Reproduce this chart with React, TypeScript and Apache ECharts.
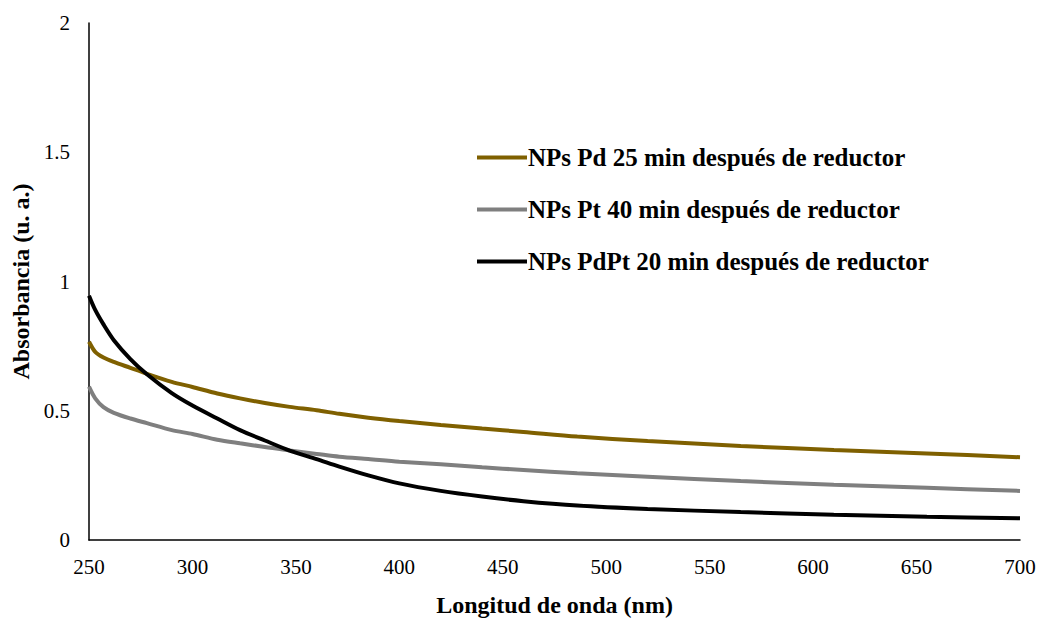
import React, { useEffect, useRef } from "react";
import * as echarts from "echarts";

const wavelengths = [250, 253, 257, 262, 270, 278, 290, 300, 312, 323, 335, 347, 360, 371, 385, 400, 420, 440, 460, 486, 520, 565, 610, 655, 700];
const pdValues = [0.767, 0.728, 0.706, 0.689, 0.666, 0.643, 0.612, 0.592, 0.567, 0.548, 0.53, 0.515, 0.502, 0.488, 0.473, 0.46, 0.445, 0.431, 0.418, 0.4, 0.383, 0.364, 0.348, 0.335, 0.32];
const ptValues = [0.593, 0.548, 0.514, 0.492, 0.47, 0.452, 0.425, 0.41, 0.388, 0.374, 0.36, 0.346, 0.333, 0.322, 0.313, 0.303, 0.293, 0.281, 0.271, 0.258, 0.245, 0.228, 0.214, 0.202, 0.19];
const pdptValues = [0.945, 0.89, 0.834, 0.773, 0.7, 0.641, 0.568, 0.52, 0.47, 0.425, 0.385, 0.346, 0.313, 0.284, 0.25, 0.219, 0.19, 0.168, 0.15, 0.133, 0.12, 0.108, 0.098, 0.09, 0.084];
const seriesNames = [
  "NPs Pd 25 min después de reductor",
  "NPs Pt 40 min después de reductor",
  "NPs PdPt 20 min después de reductor",
];
const seriesColors = ["#7F6000", "#7F7F7F", "#000000"];

const FONT = "Liberation Serif";

export default function App() {
  const ref = useRef<HTMLDivElement>(null);
  useEffect(() => {
    if (!ref.current) return;
    const chart = echarts.init(ref.current, undefined, { renderer: "svg" });
    const all = [pdValues, ptValues, pdptValues];
    chart.setOption({
      animation: false,
      backgroundColor: "#ffffff",
      textStyle: { fontFamily: FONT },
      grid: { left: 89, right: 18, top: 23, bottom: 81, containLabel: false, outerBoundsMode: "none" },
      legend: {
        orient: "vertical",
        left: 472,
        top: 140,
        itemGap: 27,
        itemWidth: 50,
        itemHeight: 4,
        icon: "rect",
        textStyle: { fontFamily: FONT, fontSize: 25, fontWeight: "bold", color: "#000", padding: [0, 0, 0, -4] },
        data: seriesNames,
      },
      xAxis: {
        type: "value",
        min: 250,
        max: 700,
        interval: 50,
        name: "Longitud de onda (nm)",
        nameLocation: "middle",
        nameGap: 53,
        nameTextStyle: { fontFamily: FONT, fontSize: 24, fontWeight: "bold", color: "#000" },
        axisLine: { show: true, lineStyle: { color: "#000", width: 1.5 } },
        axisTick: { show: false },
        splitLine: { show: false },
        axisLabel: { fontFamily: FONT, fontSize: 21, color: "#000", margin: 16 },
      },
      yAxis: {
        type: "value",
        min: 0,
        max: 2,
        interval: 0.5,
        name: "Absorbancia (u. a.)",
        nameLocation: "middle",
        nameGap: 55,
        nameTextStyle: { fontFamily: FONT, fontSize: 24, fontWeight: "bold", color: "#000" },
        axisLine: { show: true, lineStyle: { color: "#000", width: 1.5 } },
        axisTick: { show: false },
        splitLine: { show: false },
        axisLabel: { fontFamily: FONT, fontSize: 21, color: "#000", margin: 19 },
      },
      series: seriesNames.map((name, i) => ({
        name,
        type: "line",
        smooth: 0.3,
        symbol: "none",
        data: wavelengths.map((w, j) => [w, all[i][j]]),
        lineStyle: { color: seriesColors[i], width: 4 },
        itemStyle: { color: seriesColors[i] },
      })),
    });
    return () => chart.dispose();
  }, []);
  return <div ref={ref} style={{ position: "fixed", left: 0, top: 0, width: 1038, height: 621 }} />;
}
